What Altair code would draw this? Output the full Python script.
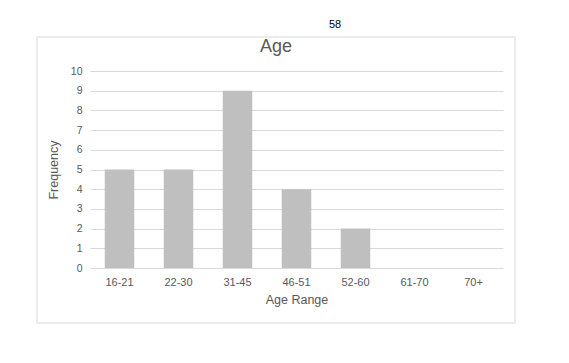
import altair as alt
import pandas as pd

categories = ["16-21", "22-30", "31-45", "46-51", "52-60", "61-70", "70+"]
frequency = [5, 5, 9, 4, 2, 0, 0]

df = pd.DataFrame({"range": categories, "freq": frequency})

FONT = "Liberation Sans"
GRAY = "#595959"

bars = alt.Chart(df).mark_bar(color="#bfbfbf").encode(
    x=alt.X("range:N", sort=categories, title="Age Range",
            scale=alt.Scale(paddingInner=0.5, paddingOuter=0.25),
            axis=alt.Axis(labelAngle=0, domain=False, ticks=False, labelPadding=8,
                          titlePadding=6, labelFontSize=11, titleFontSize=12.5,
                          labelColor=GRAY, titleColor=GRAY, labelFont=FONT, titleFont=FONT,
                          titleFontWeight="normal")),
    y=alt.Y("freq:Q", title="Frequency",
            scale=alt.Scale(domain=[0, 10], nice=False),
            axis=alt.Axis(values=list(range(0, 11)), domain=False, ticks=False,
                          labelPadding=8, titlePadding=10, labelFontSize=10.5, titleFontSize=12.5,
                          labelColor=GRAY, titleColor=GRAY, labelFont=FONT, titleFont=FONT,
                          titleFontWeight="normal", gridColor="#d9d9d9", gridWidth=1)),
)

frame = alt.Chart(alt.Data(values=[{}])).mark_rect(
    fill=None, stroke="#d9d9d9", strokeWidth=1
).encode(
    x=alt.value(-53), x2=alt.value(425), y=alt.value(-34), y2=alt.value(252)
)

page_num = alt.Chart(alt.Data(values=[{"t": "58"}])).mark_text(
    font=FONT, fontSize=11, fill="#000000", align="center", baseline="middle"
).encode(text="t:N", x=alt.value(245), y=alt.value(-46))

title = alt.Chart(alt.Data(values=[{"t": "Age"}])).mark_text(
    font=FONT, fontSize=18, fill=GRAY, align="center", baseline="middle"
).encode(text="t:N", x=alt.value(186), y=alt.value(-24))

chart = alt.layer(frame, bars, page_num, title).properties(
    width=413, height=197,
    padding={"left": 82, "top": 63, "right": 58, "bottom": 87},
    autosize=alt.AutoSizeParams(type="none"),
).configure_view(stroke=None).configure_axisX(grid=False)

chart.save("out.html", embed_options={"renderer": "svg", "actions": False})
